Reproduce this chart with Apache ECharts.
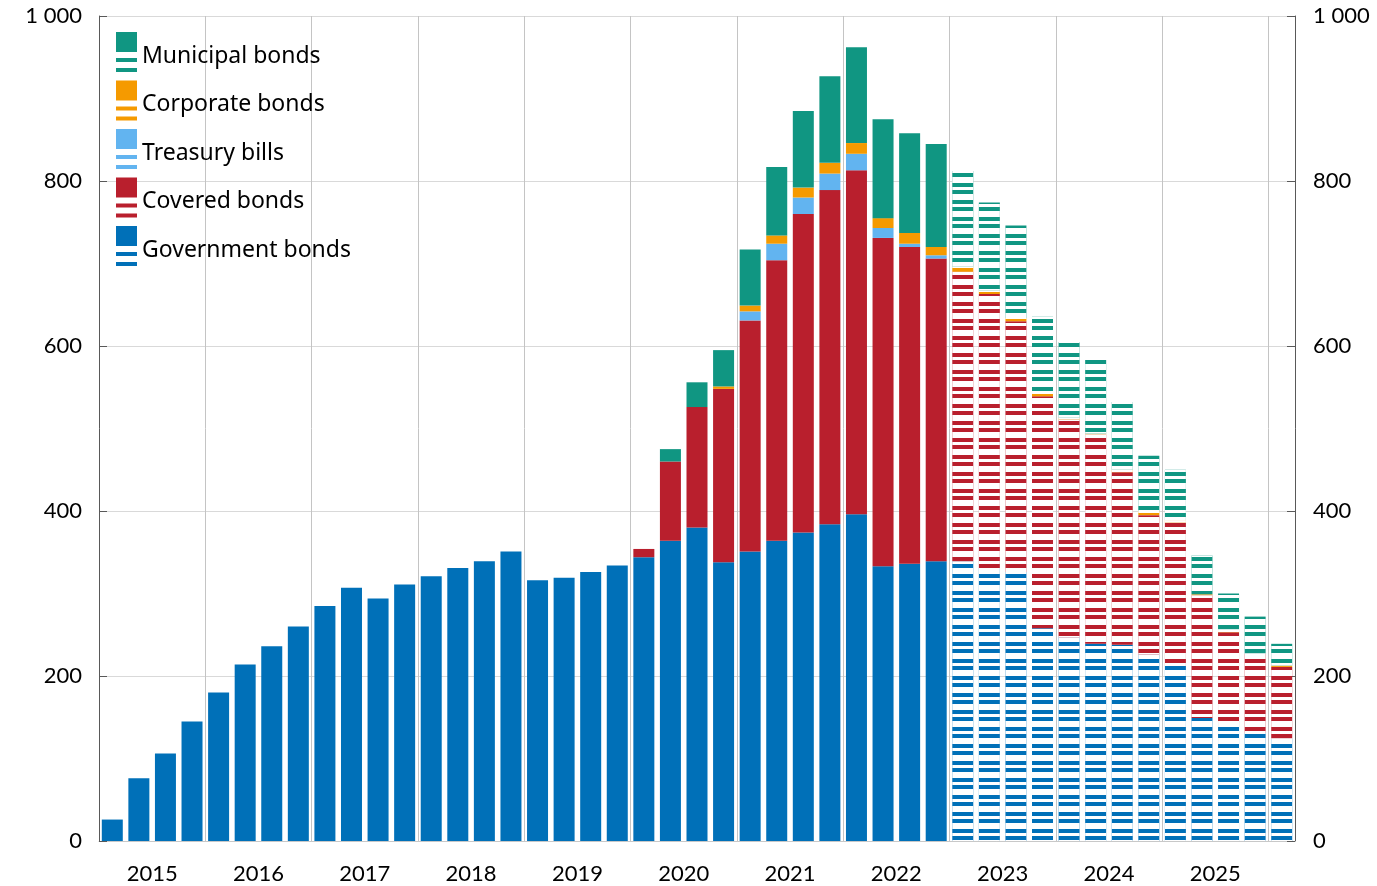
<!DOCTYPE html>
<html>
<head>
<meta charset="utf-8">
<script src="https://cdn.jsdelivr.net/npm/echarts@6/dist/echarts.min.js"></script>
<style>
html, body { margin: 0; padding: 0; background: #fff; }
#chart { width: 1377px; height: 886px; }
</style>
</head>
<body>
<div id="chart"></div>
<script>
// quarterly stock, 2015 Q1 - 2026 Q1 (from 2023 Q1 = projection)
var quarters = ['2015Q1','2015Q2','2015Q3','2015Q4','2016Q1','2016Q2','2016Q3','2016Q4',
  '2017Q1','2017Q2','2017Q3','2017Q4','2018Q1','2018Q2','2018Q3','2018Q4',
  '2019Q1','2019Q2','2019Q3','2019Q4','2020Q1','2020Q2','2020Q3','2020Q4',
  '2021Q1','2021Q2','2021Q3','2021Q4','2022Q1','2022Q2','2022Q3','2022Q4',
  '2023Q1','2023Q2','2023Q3','2023Q4','2024Q1','2024Q2','2024Q3','2024Q4',
  '2025Q1','2025Q2','2025Q3','2025Q4','2026Q1'];
var firstForecast = 32;

var government = [26,76,106,145,180,214,236,260,285,307,294,311,321,331,339,351,316,319,326,334,
  344,364,380,338,351,364,374,384,396,333,336,339,
  339,331,326,258,247,239,238,226,212,149,143,131,124];
var covered = [0,0,0,0,0,0,0,0,0,0,0,0,0,0,0,0,0,0,0,0,
  10,96,146,210,280,340,386,405,417,398,384,367,
  351,332,304,281,264,254,209,169,174,149,110,96,87];
var treasury = [0,0,0,0,0,0,0,0,0,0,0,0,0,0,0,0,0,0,0,0,
  0,0,0,0,11,20,20,20,20,12,4,4,
  0,0,0,0,0,0,0,0,0,0,0,0,0];
var corporate = [0,0,0,0,0,0,0,0,0,0,0,0,0,0,0,0,0,0,0,0,
  0,0,0,3,7,10,12,13,13,12,13,10,
  6,4,4,4,2,1,3,5,3,1,3,0,2];
var municipal = [0,0,0,0,0,0,0,0,0,0,0,0,0,0,0,0,0,0,0,0,
  0,15,30,44,68,83,93,105,116,120,121,125,
  116,107,112,93,92,89,82,67,61,47,44,45,26];

var yearLabels = {2:'2015',6:'2016',10:'2017',14:'2018',18:'2019',22:'2020',26:'2021',30:'2022',34:'2023',38:'2024',42:'2025'};

var font = 'Lato';
var legendFont = 'Noto Sans';
var stripe = {
  symbol: 'rect',
  symbolSize: 1,
  color: '#ffffff',
  dashArrayX: [1, 0],
  dashArrayY: [3, 4, 6, 4],
  rotation: 0
};

function withStripes(arr) {
  return arr.map(function (v, i) {
    if (i >= firstForecast) return { value: v, itemStyle: { decal: stripe } };
    return v;
  });
}

function makeSeries(name, arr, color) {
  return {
    name: name,
    type: 'bar',
    stack: 'total',
    barWidth: 21,
    xAxisIndex: 0,
    yAxisIndex: 0,
    itemStyle: { color: color },
    emphasis: { disabled: true },
    data: withStripes(arr)
  };
}

var legendIcon = 'path://M0,0H21V20H0Z M0,26H21V30H0Z M0,36H21V40H0Z';

function spaced(v) {
  return String(v).replace(/\B(?=(\d{3})+(?!\d))/g, ' ');
}

var myChart = echarts.init(document.getElementById('chart'));
var option = {
  animation: false,
  grid: { left: 99, right: 82, top: 16, bottom: 45 },
  legend: {
    orient: 'vertical',
    left: 111,
    top: 27,
    itemWidth: 21,
    itemHeight: 40,
    itemGap: 8.5,
    icon: legendIcon,
    selectedMode: false,
    formatter: '{t|{name}}',
    textStyle: {
      fontFamily: legendFont, fontSize: 23, color: '#000',
      rich: { t: { fontFamily: legendFont, fontSize: 23, color: '#000', padding: [8, 0, 0, 0] } }
    },
    data: ['Municipal bonds', 'Corporate bonds', 'Treasury bills', 'Covered bonds', 'Government bonds']
  },
  xAxis: [
    {
      type: 'category',
      data: quarters,
      axisLine: { show: true, lineStyle: { color: '#c8c8c8' } },
      axisTick: { show: false },
      axisLabel: { show: false },
      splitLine: {
        show: true,
        interval: function (index) { return index % 4 === 0; },
        lineStyle: { color: '#c4c4c4' }
      }
    },
    {
      type: 'value',
      min: 0,
      max: 45,
      interval: 2,
      position: 'bottom',
      axisLine: { show: false },
      axisTick: { show: false },
      splitLine: { show: false },
      axisLabel: {
        fontFamily: font,
        fontSize: 22,
        color: '#000',
        margin: 22,
        formatter: function (v) { return yearLabels[v] || ''; }
      }
    }
  ],
  yAxis: [
    {
      type: 'value',
      min: 0,
      max: 1000,
      interval: 200,
      position: 'left',
      axisLine: { show: true, lineStyle: { color: '#595959' } },
      axisTick: { show: true, inside: true, length: 8, lineStyle: { color: '#595959' } },
      splitLine: { show: true, lineStyle: { color: '#d9d9d9' } },
      axisLabel: { fontFamily: font, fontSize: 22, color: '#000', margin: 17, formatter: spaced }
    },
    {
      type: 'value',
      min: 0,
      max: 1000,
      interval: 200,
      position: 'right',
      axisLine: { show: true, lineStyle: { color: '#595959' } },
      axisTick: { show: true, inside: true, length: 8, lineStyle: { color: '#595959' } },
      splitLine: { show: false },
      axisLabel: { fontFamily: font, fontSize: 22, color: '#000', margin: 18, formatter: spaced }
    }
  ],
  series: [
    makeSeries('Government bonds', government, '#0070b8'),
    makeSeries('Covered bonds', covered, '#b91f2d'),
    makeSeries('Treasury bills', treasury, '#62b4f0'),
    makeSeries('Corporate bonds', corporate, '#f59a00'),
    makeSeries('Municipal bonds', municipal, '#109682')
  ]
};
myChart.setOption(option);
</script>
</body>
</html>
